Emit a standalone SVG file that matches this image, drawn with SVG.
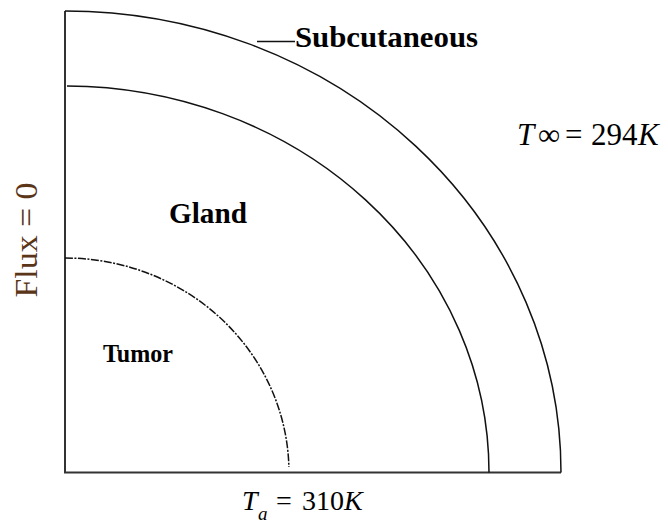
<svg xmlns="http://www.w3.org/2000/svg" width="668" height="523" viewBox="0 0 668 523">
<style>
.bold{font-family:"Liberation Serif","Times New Roman",serif;font-weight:bold;fill:#000}
.math{font-family:"Liberation Serif","Times New Roman",serif;fill:#000}
.it{font-style:italic}
.axis{fill:none;stroke:#333;stroke-width:2}
.arc{fill:none;stroke:#111;stroke-width:1.5}
.dash{stroke-dasharray:8,1.5,2,1.5}
</style>
<rect width="668" height="523" fill="#fff"/>
<g id="connectors">
<path class="axis" d="M65,11 V472.5 H561"/>
<line x1="257" y1="41.5" x2="295" y2="41.5" stroke="#111" stroke-width="1.5"/>
</g>
<g id="subcutaneous">
<path class="arc" d="M65,11 A496,461.5 0 0 1 561,472.5"/>
<text class="bold" x="295" y="47" font-size="29" textLength="183" lengthAdjust="spacingAndGlyphs">Subcutaneous</text>
</g>
<g id="gland">
<path class="arc" d="M67,86 A424,386.5 0 0 1 489,472.5"/>
<text class="bold" x="169" y="223" font-size="29" textLength="78" lengthAdjust="spacingAndGlyphs">Gland</text>
</g>
<g id="tumor">
<path class="arc dash" d="M65,258 A224,214.5 0 0 1 288.9,467"/>
<text class="bold" x="103" y="362" font-size="26" textLength="70" lengthAdjust="spacingAndGlyphs">Tumor</text>
</g>
<g id="flux">
<text class="math" transform="translate(37,240) rotate(-90)" text-anchor="middle" font-size="31" style="fill:#5a3518" textLength="115" lengthAdjust="spacingAndGlyphs">Flux = 0</text>
</g>
<g id="tinf">
<text class="math" y="145" font-size="31"><tspan class="it" x="517">T</tspan><tspan x="538">∞</tspan><tspan x="565">=</tspan><tspan x="591">294</tspan><tspan class="it" x="638">K</tspan></text>
</g>
<g id="ta">
<text class="math" font-size="28"><tspan class="it" x="242" y="510">T</tspan><tspan class="it" x="258" y="520" font-size="19">a</tspan><tspan x="276" y="510">=</tspan><tspan x="302" y="510">310</tspan><tspan class="it" x="344" y="510">K</tspan></text>
</g>
</svg>
